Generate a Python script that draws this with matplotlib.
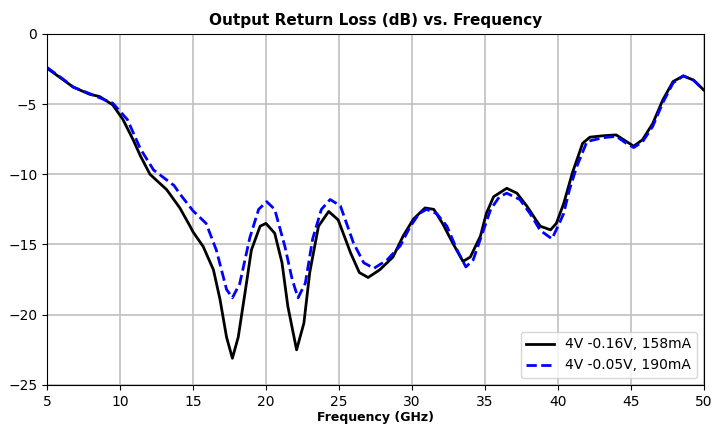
import matplotlib.pyplot as plt
import numpy as np

# values (GHz, dB)
f_a = [5.0, 6.0, 6.8, 7.9, 8.6, 9.5, 10.2, 10.9, 11.4, 12.05, 13.2, 14.1, 14.8, 15.0,
       15.7, 16.4, 16.85, 17.3, 17.7, 18.1, 18.6, 19.0, 19.6, 20.0, 20.6, 21.1, 21.5,
       22.1, 22.6, 23.0, 23.6, 24.3, 24.95, 25.8, 26.4, 27.0, 27.8, 28.7, 29.4, 30.1,
       30.9, 31.5, 32.1, 32.8, 33.5, 34.0, 34.7, 35.1, 35.6, 36.5, 37.2, 37.9, 38.5,
       38.8, 39.5, 39.9, 40.4, 41.0, 41.7, 42.2, 43.1, 44.0, 44.7, 45.2, 45.8, 46.5,
       47.2, 47.9, 48.6, 49.3, 50.0]
s_a = [-2.45, -3.2, -3.8, -4.3, -4.47, -5.06, -6.1, -7.55, -8.7, -10.0, -11.1, -12.4,
       -13.7, -14.1, -15.15, -16.8, -18.9, -21.6, -23.1, -21.6, -18.2, -15.4, -13.7,
       -13.5, -14.2, -16.3, -19.4, -22.5, -20.6, -17.0, -13.7, -12.65, -13.25, -15.6,
       -17.0, -17.35, -16.8, -15.9, -14.4, -13.2, -12.4, -12.5, -13.5, -14.9, -16.2,
       -15.9, -14.4, -12.8, -11.6, -11.0, -11.35, -12.3, -13.25, -13.7, -13.96, -13.5,
       -12.1, -9.9, -7.8, -7.36, -7.26, -7.2, -7.67, -8.0, -7.55, -6.4, -4.7, -3.4,
       -3.0, -3.3, -4.0]

f_b = [5.0, 6.0, 6.8, 7.9, 9.5, 10.5, 11.4, 12.3, 13.7, 14.1, 15.0, 15.9, 16.6, 17.3,
       17.7, 18.2, 18.9, 19.5, 20.05, 20.6, 21.3, 21.8, 22.2, 22.7, 23.2, 23.8, 24.4,
       25.1, 26.0, 26.7, 27.4, 28.3, 29.2, 29.9, 30.5, 31.0, 31.7, 32.4, 33.1, 33.7,
       34.2, 34.9, 35.4, 36.0, 36.5, 37.4, 38.1, 38.8, 39.6, 40.1, 40.4, 40.8, 41.3,
       42.0, 43.1, 44.0, 44.7, 45.2, 45.8, 46.5, 47.2, 47.9, 48.6, 49.3, 50.0]
s_b = [-2.4, -3.15, -3.8, -4.25, -4.94, -6.1, -8.2, -9.7, -10.8, -11.4, -12.6, -13.5,
       -15.4, -18.2, -18.8, -17.8, -14.5, -12.5, -11.95, -12.5, -15.15, -17.5, -18.8,
       -17.75, -14.6, -12.5, -11.8, -12.25, -14.9, -16.3, -16.7, -16.1, -15.1, -13.7,
       -12.8, -12.5, -12.8, -13.7, -15.4, -16.6, -16.1, -14.0, -12.5, -11.6, -11.35,
       -11.8, -12.8, -14.0, -14.6, -13.5, -12.8, -11.1, -9.45, -7.67, -7.4, -7.3, -7.8,
       -8.1, -7.7, -6.6, -4.9, -3.5, -3.0, -3.3, -4.0]

labels = ['4V -0.16V, 158mA', '4V -0.05V, 190mA']

fig = plt.figure(figsize=(7.13, 4.33), dpi=100)
ax = fig.add_axes([0.066, 0.111, 0.921, 0.811])

ax.plot(f_a, s_a, color='black', linewidth=2, solid_joinstyle='round', label=labels[0])
ax.plot(f_b, s_b, color='blue', linewidth=2, linestyle='--', dash_joinstyle='round',
        label=labels[1])

ax.grid(color='#c0c0c0', linewidth=1.2)
ax.set_axisbelow(True)
ax.set_xlim([5, 50])
ax.set_ylim([-25, 0])
ax.set_xticks(np.arange(5, 51, 5))
ax.set_yticks(np.arange(-25, 1, 5))
ax.tick_params(labelsize=10)
ax.set_title('Output Return Loss (dB) vs. Frequency', fontweight='bold', fontsize=11)
ax.set_xlabel('Frequency (GHz)', fontweight='bold', fontsize=9, labelpad=2)
ax.legend(loc='lower right', fontsize=10)
fig.savefig('out.png', dpi=100)
